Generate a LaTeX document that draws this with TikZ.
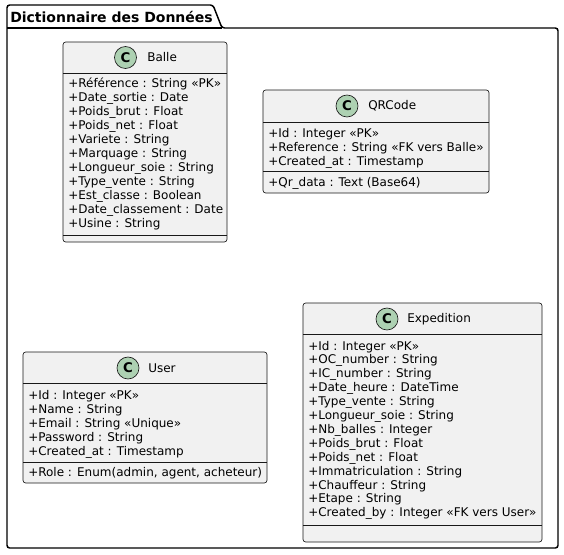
\documentclass[tikz,border=0pt]{standalone}
\usepackage{fontspec}
\setmainfont{DejaVu Sans}
\usetikzlibrary{positioning}

\definecolor{boxfill}{HTML}{F1F1F1}
\definecolor{boxline}{HTML}{181818}
\definecolor{spotfill}{HTML}{ADD1B2}

\tikzset{
  classbox/.style={draw=boxline, fill=boxfill, line width=0.5pt, rounded corners=2pt},
  sepline/.style={draw=boxline, line width=0.5pt},
  member/.style={anchor=base west, inner sep=0pt, font=\fontsize{9}{11}\selectfont},
  classname/.style={anchor=west, inner sep=0pt, font=\fontsize{9}{11}\selectfont},
  spot/.style={circle, draw=boxline, fill=spotfill, line width=0.5pt, minimum size=16.5pt, inner sep=0pt, font=\fontsize{10}{12}\selectfont\bfseries},
  pkgtitle/.style={anchor=west, inner sep=0pt, font=\fontsize{10.5}{12}\selectfont\bfseries}
}

\begin{document}
\begin{tikzpicture}[x=0.75pt, y=-0.75pt]
  \useasboundingbox (0,0) rectangle (564,554);

  % Draw package
  \draw[line width=1.1pt, rounded corners=2pt] (7,28) -- (7,5) -- (213,5) -- (222,28) -- (558,28) -- (558,548) -- (7,548) -- cycle;
  \draw[line width=1.1pt] (7,28) -- (222,28);
  \node[pkgtitle] (pkg) at (10,16.5) {Dictionnaire des Données};

  % Balle
  \draw[classbox] (63,42) rectangle (227,242);
  \draw[sepline] (63,73) -- (227,73);
  \draw[sepline] (63,235) -- (227,235);
  \node[spot] (balleC) at (125.5,57.5) {C};
  \node[classname] (balle) at (147,57.5) {Balle};
  \foreach \m [count=\i from 0] in {+Référence : String «PK», +Date\_sortie : Date, +Poids\_brut : Float, +Poids\_net : Float, +Variete : String, +Marquage : String, +Longueur\_soie : String, +Type\_vente : String, +Est\_classe : Boolean, +Date\_classement : Date, +Usine : String}
    \node[member] (balle\i) at (68,87+14*\i) {\m};

  % QRCode
  \draw[classbox] (263,90) rectangle (489,193);
  \draw[sepline] (263,122) -- (489,122);
  \draw[sepline] (263,171) -- (489,171);
  \node[spot] (qrC) at (347,106) {C};
  \node[classname] (qr) at (368,106) {QRCode};
  \foreach \m [count=\i from 0] in {+Id : Integer «PK», +Reference : String «FK vers Balle», +Created\_at : Timestamp}
    \node[member] (qr\i) at (268,137+14*\i) {\m};
  \node[member] (qrop) at (268,186) {+Qr\_data : Text (Base64)};

  % User
  \draw[classbox] (23,352) rectangle (267,483);
  \draw[sepline] (23,383) -- (267,383);
  \draw[sepline] (23,462) -- (267,462);
  \node[spot] (userC) at (128,368) {C};
  \node[classname] (user) at (148,368) {User};
  \foreach \m [count=\i from 0] in {+Id : Integer «PK», +Name : String, +Email : String «Unique», +Password : String, +Created\_at : Timestamp}
    \node[member] (user\i) at (28,399+14*\i) {\m};
  \node[member] (userop) at (28,476) {+Role : Enum(admin, agent, acheteur)};

  % Expedition
  \draw[classbox] (303,303) rectangle (542,542);
  \draw[sepline] (303,334) -- (542,334);
  \draw[sepline] (303,525) -- (542,525);
  \node[spot] (expC) at (387,319) {C};
  \node[classname] (exp) at (407,319) {Expedition};
  \foreach \m [count=\i from 0] in {+Id : Integer «PK», +OC\_number : String, +IC\_number : String, +Date\_heure : DateTime, +Type\_vente : String, +Longueur\_soie : String, +Nb\_balles : Integer, +Poids\_brut : Float, +Poids\_net : Float, +Immatriculation : String, +Chauffeur : String, +Etape : String, +Created\_by : Integer «FK vers User»}
    \node[member] (exp\i) at (308,350+13.9*\i) {\m};

\end{tikzpicture}
\end{document}
